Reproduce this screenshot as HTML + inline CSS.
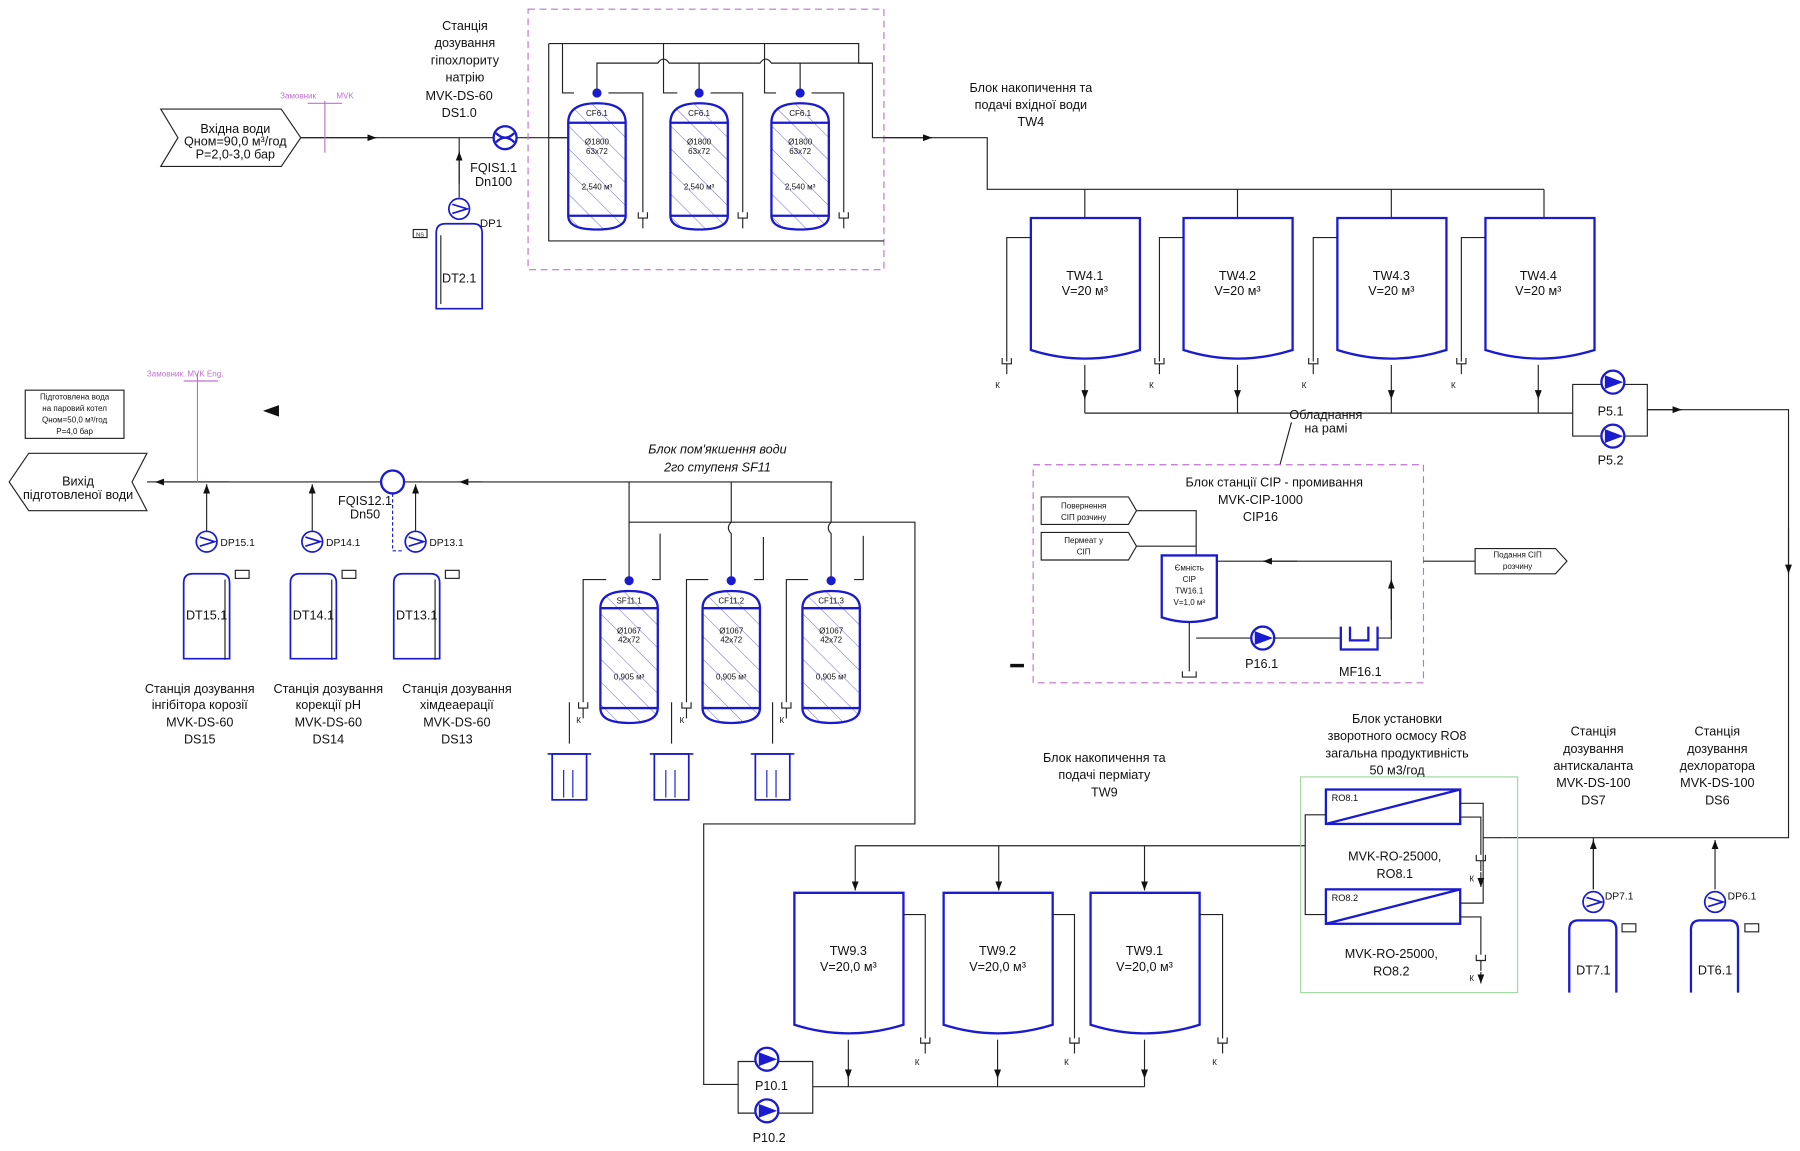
<!DOCTYPE html>
<html><head><meta charset="utf-8"><style>
html,body{margin:0;padding:0;background:#fff;}
svg{display:block;font-family:"Liberation Sans",sans-serif;}
text{fill:#111;}
.t{font-size:11px;text-anchor:middle;}
.s{font-size:7px;text-anchor:middle;}
.b{stroke:#1a1ad0;fill:none;stroke-width:2;}
.l{stroke:#222;fill:none;stroke-width:1;}
.p{stroke:#c070d0;fill:none;stroke-width:1;stroke-dasharray:6,4;}
</style></head><body>
<svg width="1800" height="1151" viewBox="0 0 1568 1003" preserveAspectRatio="none" xmlns="http://www.w3.org/2000/svg">
<defs>
<pattern id="h" width="14" height="14" patternUnits="userSpaceOnUse" patternTransform="rotate(-45)"><line x1="0" y1="0" x2="0" y2="14" stroke="#4444d0" stroke-width="0.7"/></pattern>
<marker id="a" markerWidth="8" markerHeight="6" refX="8" refY="3" orient="auto"><path d="M0,0 L8,3 L0,6z" fill="#111"/></marker>
<g id="cf">
<path d="M0,17 Q0,0 25,0 Q50,0 50,17 L50,98 Q50,110 25,110 Q0,110 0,98 Z" fill="url(#h)" stroke="#1a1ad0" stroke-width="2"/>
<line x1="0" y1="17" x2="50" y2="17" stroke="#1a1ad0" stroke-width="2"/>
<line x1="0" y1="98" x2="50" y2="98" stroke="#1a1ad0" stroke-width="2"/>
</g>
<g id="sf">
<path d="M0,15 Q0,0 25,0 Q50,0 50,15 L50,102 Q50,115 25,115 Q0,115 0,102 Z" fill="url(#h)" stroke="#1a1ad0" stroke-width="2"/>
<line x1="0" y1="15" x2="50" y2="15" stroke="#1a1ad0" stroke-width="2"/>
<line x1="0" y1="102" x2="50" y2="102" stroke="#1a1ad0" stroke-width="2"/>
</g>
<g id="tk"><path d="M0,0 L95,0 L95,115 Q47,130 0,115 Z" stroke="#1a1ad0" stroke-width="2" fill="#fff"/></g>
<g id="pu"><circle cx="0" cy="0" r="10" fill="#fff" stroke="#1a1ad0" stroke-width="2"/><path d="M-7,-6 L9,0 L-7,6" fill="#1a1ad0"/></g>
<g id="pd"><circle cx="0" cy="0" r="9" fill="#fff" stroke="#1a1ad0" stroke-width="1.5"/><path d="M-6,-4 L7,0 L-6,4" fill="none" stroke="#1a1ad0" stroke-width="1.5"/></g>
<g id="dt"><path d="M0,8 Q0,0 8,0 L32,0 Q40,0 40,8 L40,74 L0,74 Z" fill="#fff" stroke="#1a1ad0" stroke-width="1.5"/></g>
<g id="dr"><path d="M-4,0 L-4,5 L4,5 L4,0 M0,5 L0,14" class="l"/></g>
<g id="bk"><rect x="0" y="0" width="30" height="40" fill="none" stroke="#1a1ad0" stroke-width="1.5"/><line x1="-4" y1="0" x2="34" y2="0" stroke="#1a1ad0" stroke-width="1.5"/><line x1="10" y1="14" x2="10" y2="38" stroke="#1a1ad0"/><line x1="18" y1="14" x2="18" y2="38" stroke="#1a1ad0"/></g>
</defs>

<!-- inlet -->
<polygon points="140,95 245,95 262,120 245,145 140,145 155,120" class="l"/>
<text class="t" x="205" y="116">Вхідна води</text>
<text class="t" x="205" y="127">Qном=90,0 м³/год</text>
<text class="t" x="205" y="138">P=2,0-3,0 бар</text>
<line x1="262" y1="120" x2="495" y2="120" class="l"/>
<line x1="262" y1="120" x2="328" y2="120" class="l" marker-end="url(#a)"/>
<line x1="283" y1="88" x2="283" y2="133" stroke="#c070d0"/>
<line x1="268" y1="90" x2="298" y2="90" stroke="#c070d0"/>
<text x="244" y="86" font-size="7" style="fill:#c070d0">Замовник</text>
<text x="293" y="86" font-size="7" style="fill:#c070d0">MVK</text>
<text class="t" x="405" y="26">Станція</text>
<text class="t" x="405" y="41">дозування</text>
<text class="t" x="405" y="56">гіпохлориту</text>
<text class="t" x="405" y="71">натрію</text>
<text class="t" x="400" y="87">MVK-DS-60</text>
<text class="t" x="400" y="102">DS1.0</text>
<circle cx="440" cy="120" r="10" fill="#fff" stroke="#1a1ad0" stroke-width="2"/>
<path d="M432,116 Q440,124 448,116 M432,124 Q440,116 448,124" class="b" stroke-width="1"/>
<text class="t" x="430" y="150">FQIS1.1</text><text class="t" x="430" y="162">Dn100</text>
<line x1="400" y1="172" x2="400" y2="120" class="l"/>
<line x1="400" y1="160" x2="400" y2="132" class="l" marker-end="url(#a)"/>
<use href="#pd" x="400" y="182"/><text x="418" y="198" font-size="10">DP1</text>
<use href="#dt" x="380" y="195"/><text class="t" x="400" y="246">DT2.1</text>
<rect x="360" y="200" width="12" height="7" class="l"/><text x="366" y="206" font-size="5" text-anchor="middle">NS</text>
<line x1="384" y1="205" x2="384" y2="265" class="l"/>

<!-- CF block -->
<rect x="460" y="8" width="310" height="227" class="p"/>
<path d="M478,38 L748,38 L748,55 L760,55 L760,70 M478,38 L478,210 L770,210 M495,120 L478,120 M760,70 L760,120 L770,120" class="l"/>
<path d="M490,38 L490,81 L500,81 M578,38 L578,81 L590,81 M666,38 L666,81 L676,81" class="l"/>
<path d="M520,78 L520,55 L573,55 Q578,48 583,55 L662,55 Q667,48 672,55 L760,55" class="l"/>
<path d="M609,78 L609,55 M697,78 L697,55" class="l"/>
<path d="M530,81 L560,81 L560,185 M619,81 L647,81 L647,185 M707,81 L735,81 L735,185" class="l"/>
<use href="#cf" x="495" y="90"/><use href="#cf" x="584" y="90"/><use href="#cf" x="672" y="90"/>
<g class="s">
<text x="520" y="101">CF6.1</text><text x="520" y="126">Ø1800</text><text x="520" y="134">63x72</text><text x="520" y="165">2,540 м³</text>
<text x="609" y="101">CF6.1</text><text x="609" y="126">Ø1800</text><text x="609" y="134">63x72</text><text x="609" y="165">2,540 м³</text>
<text x="697" y="101">CF6.1</text><text x="697" y="126">Ø1800</text><text x="697" y="134">63x72</text><text x="697" y="165">2,540 м³</text>
</g>
<g fill="#1a1ad0"><circle cx="520" cy="81" r="4"/><circle cx="609" cy="81" r="4"/><circle cx="697" cy="81" r="4"/></g>
<use href="#dr" x="560" y="185"/><use href="#dr" x="647" y="185"/><use href="#dr" x="735" y="185"/>

<!-- TW4 -->
<path d="M770,120 L860,120 L860,165 L1345,165" class="l"/>
<line x1="770" y1="120" x2="812" y2="120" class="l" marker-end="url(#a)"/>
<path d="M945,165 L945,190 M1078,165 L1078,190 M1212,165 L1212,190 M1345,165 L1345,190" class="l"/>
<use href="#tk" x="898" y="190"/><use href="#tk" x="1031" y="190"/><use href="#tk" x="1165" y="190"/><use href="#tk" x="1294" y="190"/>
<text class="t" x="945" y="244">TW4.1</text><text class="t" x="945" y="257">V=20 м³</text>
<text class="t" x="1078" y="244">TW4.2</text><text class="t" x="1078" y="257">V=20 м³</text>
<text class="t" x="1212" y="244">TW4.3</text><text class="t" x="1212" y="257">V=20 м³</text>
<text class="t" x="1340" y="244">TW4.4</text><text class="t" x="1340" y="257">V=20 м³</text>
<path d="M898,207 L877,207 L877,315 M1031,207 L1010,207 L1010,315 M1165,207 L1144,207 L1144,315 M1294,207 L1273,207 L1273,315" class="l"/>
<g font-size="7"><text x="867" y="338">К</text><text x="1001" y="338">К</text><text x="1134" y="338">К</text><text x="1264" y="338">К</text></g>
<use href="#dr" x="877" y="312"/><use href="#dr" x="1010" y="312"/><use href="#dr" x="1144" y="312"/><use href="#dr" x="1273" y="312"/>
<line x1="945" y1="318" x2="945" y2="348" class="l" marker-end="url(#a)"/><line x1="945" y1="345" x2="945" y2="360" class="l"/>
<line x1="1078" y1="318" x2="1078" y2="348" class="l" marker-end="url(#a)"/><line x1="1078" y1="345" x2="1078" y2="360" class="l"/>
<line x1="1212" y1="318" x2="1212" y2="348" class="l" marker-end="url(#a)"/><line x1="1212" y1="345" x2="1212" y2="360" class="l"/>
<line x1="1340" y1="318" x2="1340" y2="348" class="l" marker-end="url(#a)"/><line x1="1340" y1="345" x2="1340" y2="360" class="l"/>
<line x1="945" y1="360" x2="1370" y2="360" class="l"/>
<text class="t" x="898" y="80">Блок накопичення та</text>
<text class="t" x="898" y="95">подачі вхідної води</text>
<text class="t" x="898" y="110">TW4</text>
<text class="t" x="1155" y="365">Обладнання</text><text class="t" x="1155" y="377">на рамі</text>
<path d="M1125,368 L1115,405" class="l"/>
<path d="M1370,335 L1370,380 L1435,380 L1435,335 Z" class="l"/>
<use href="#pu" x="1405" y="333"/><use href="#pu" x="1405" y="380"/>
<text class="t" x="1403" y="362">P5.1</text><text class="t" x="1403" y="405">P5.2</text>
<path d="M1435,357 L1558,357 L1558,730 L1310,730" class="l"/>
<line x1="1435" y1="357" x2="1465" y2="357" class="l" marker-end="url(#a)"/>
<line x1="1558" y1="460" x2="1558" y2="500" class="l" marker-end="url(#a)"/>
<polygon points="229,358 243,353 243,363" fill="#111"/>

<!-- CIP -->
<rect x="900" y="405" width="340" height="190" class="p"/>
<text class="t" x="1110" y="424" font-size="12">Блок станції CIP - промивання</text>
<text class="t" x="1098" y="439" font-size="12">MVK-CIP-1000</text>
<text class="t" x="1098" y="454" font-size="12">CIP16</text>
<polygon points="907,433 983,433 990,445 983,457 907,457" class="l"/>
<text class="s" x="944" y="443">Повернення</text><text class="s" x="944" y="453">СІП розчину</text>
<polygon points="907,464 983,464 990,476 983,488 907,488" class="l"/>
<text class="s" x="944" y="473">Пермеат у</text><text class="s" x="944" y="483">СІП</text>
<path d="M990,445 L1042,445 L1042,484 M990,476 L1042,476" class="l"/>
<path d="M1012,484 L1060,484 L1060,538 Q1036,546 1012,538 Z" class="b" stroke-width="1.5"/>
<text class="s" x="1036" y="497">Ємність</text><text class="s" x="1036" y="507">CIP</text><text class="s" x="1036" y="517">TW16.1</text><text class="s" x="1036" y="527">V=1,0 м³</text>
<path d="M1036,542 L1036,585 M1030,585 L1030,590 L1042,590 L1042,585 M1042,556 L1090,556" class="l"/>
<use href="#pu" x="1100" y="556"/><text class="t" x="1099" y="582">P16.1</text>
<path d="M1110,556 L1168,556" class="l"/>
<path d="M1168,546 L1168,566 L1200,566 L1200,546 M1176,546 L1176,558 L1192,558 L1192,546" class="b" stroke-width="1.5"/>
<text class="t" x="1185" y="589">MF16.1</text>
<path d="M1200,556 L1212,556 L1212,489 L1060,489" class="l"/>
<line x1="1212" y1="540" x2="1212" y2="505" class="l" marker-end="url(#a)"/>
<line x1="1130" y1="489" x2="1100" y2="489" class="l" marker-end="url(#a)"/>
<line x1="1240" y1="489" x2="1285" y2="489" class="l"/>
<polygon points="1285,478 1355,478 1365,489 1355,500 1285,500" class="l"/>
<text class="s" x="1322" y="486">Подання СІП</text><text class="s" x="1322" y="496">розчину</text>
<line x1="880" y1="580" x2="892" y2="580" stroke="#111" stroke-width="3"/>

<!-- Output side -->
<rect x="22" y="340" width="86" height="42" class="l"/>
<text class="s" x="65" y="348">Підготовлена вода</text>
<text class="s" x="65" y="358">на паровий котел</text>
<text class="s" x="65" y="368">Qном=50,0 м³/год</text>
<text class="s" x="65" y="378">P=4,0 бар</text>
<polygon points="8,420 25,395 128,395 115,420 128,445 25,445" class="l"/>
<text class="t" x="68" y="423">Вихід</text><text class="t" x="68" y="435">підготовленої води</text>
<line x1="725" y1="420" x2="128" y2="420" class="l"/>
<line x1="200" y1="420" x2="135" y2="420" class="l" marker-end="url(#a)"/>
<line x1="420" y1="420" x2="400" y2="420" class="l" marker-end="url(#a)"/>
<line x1="172" y1="325" x2="172" y2="420" stroke="#c070d0"/>
<line x1="160" y1="332" x2="190" y2="332" stroke="#c070d0"/>
<text x="128" y="328" font-size="7" style="fill:#c070d0">Замовник. MVK Eng.</text>
<circle cx="342" cy="420" r="10" fill="#fff" stroke="#1a1ad0" stroke-width="2"/>
<text class="t" x="318" y="440">FQIS12.1</text><text class="t" x="318" y="452">Dn50</text>
<path d="M342,430 L342,480 L352,480" stroke="#1a1ad0" stroke-dasharray="3,2" fill="none"/>
<line x1="180" y1="465" x2="180" y2="422" class="l" marker-end="url(#a)"/>
<line x1="272" y1="465" x2="272" y2="422" class="l" marker-end="url(#a)"/>
<line x1="362" y1="465" x2="362" y2="422" class="l" marker-end="url(#a)"/>
<use href="#pd" x="180" y="472"/><use href="#pd" x="272" y="472"/><use href="#pd" x="362" y="472"/>
<text x="192" y="476" font-size="9">DP15.1</text><text x="284" y="476" font-size="9">DP14.1</text><text x="374" y="476" font-size="9">DP13.1</text>
<use href="#dt" x="160" y="500"/><use href="#dt" x="253" y="500"/><use href="#dt" x="343" y="500"/>
<text class="t" x="180" y="540" font-size="10">DT15.1</text><text class="t" x="273" y="540" font-size="10">DT14.1</text><text class="t" x="363" y="540" font-size="10">DT13.1</text>
<path d="M196,505 L196,575 M289,505 L289,575 M379,505 L379,575" class="l"/>
<rect x="205" y="497" width="12" height="7" class="l"/><rect x="298" y="497" width="12" height="7" class="l"/><rect x="388" y="497" width="12" height="7" class="l"/>
<text class="t" x="174" y="604" font-size="12">Станція дозування</text><text class="t" x="174" y="618" font-size="12">інгібітора корозії</text><text class="t" x="174" y="633" font-size="12">MVK-DS-60</text><text class="t" x="174" y="648" font-size="12">DS15</text>
<text class="t" x="286" y="604" font-size="12">Станція дозування</text><text class="t" x="286" y="618" font-size="12">корекції pH</text><text class="t" x="286" y="633" font-size="12">MVK-DS-60</text><text class="t" x="286" y="648" font-size="12">DS14</text>
<text class="t" x="398" y="604" font-size="12">Станція дозування</text><text class="t" x="398" y="618" font-size="12">хімдеаерації</text><text class="t" x="398" y="633" font-size="12">MVK-DS-60</text><text class="t" x="398" y="648" font-size="12">DS13</text>

<!-- SF11 -->
<text class="t" x="625" y="395" font-size="12" font-style="italic">Блок пом'якшення води</text>
<text class="t" x="625" y="411" font-size="12" font-style="italic">2го ступеня SF11</text>
<path d="M548,420 L548,505 M637,420 L637,455 Q632,460 637,465 L637,505 M724,420 L724,455 Q719,460 724,465 L724,505" class="l"/>
<path d="M548,455 L797,455 L797,718 L613,718 L613,945 L643,945" class="l"/>
<path d="M528,505 L508,505 L508,612 M568,505 L575,505 L575,465 M617,505 L598,505 L598,612 M657,505 L665,505 L665,468 M704,505 L685,505 L685,612 M744,505 L752,505 L752,467" class="l"/>
<use href="#sf" x="523" y="515"/><use href="#sf" x="612" y="515"/><use href="#sf" x="699" y="515"/>
<g fill="#1a1ad0"><circle cx="548" cy="506" r="4"/><circle cx="637" cy="506" r="4"/><circle cx="724" cy="506" r="4"/></g>
<g class="s">
<text x="548" y="526">SF11.1</text><text x="548" y="552">Ø1067</text><text x="548" y="560">42x72</text><text x="548" y="592">0,905 м³</text>
<text x="637" y="526">CF11.2</text><text x="637" y="552">Ø1067</text><text x="637" y="560">42x72</text><text x="637" y="592">0,905 м³</text>
<text x="724" y="526">CF11.3</text><text x="724" y="552">Ø1067</text><text x="724" y="560">42x72</text><text x="724" y="592">0,905 м³</text>
</g>
<use href="#dr" x="508" y="612"/><use href="#dr" x="598" y="612"/><use href="#dr" x="685" y="612"/>
<g font-size="7"><text x="502" y="630">К</text><text x="592" y="630">К</text><text x="679" y="630">К</text></g>
<path d="M496,612 L496,648 M585,612 L585,648 M673,612 L673,648" class="l"/>
<use href="#bk" x="481" y="657"/><use href="#bk" x="570" y="657"/><use href="#bk" x="658" y="657"/>

<!-- TW9 -->
<text class="t" x="962" y="664" font-size="12">Блок накопичення та</text>
<text class="t" x="962" y="679" font-size="12">подачі пермiату</text>
<text class="t" x="962" y="694" font-size="12">TW9</text>
<path d="M1137,737 L745,737" class="l"/>
<line x1="745" y1="737" x2="745" y2="776" class="l" marker-end="url(#a)"/>
<line x1="870" y1="737" x2="870" y2="776" class="l" marker-end="url(#a)"/>
<line x1="997" y1="737" x2="997" y2="776" class="l" marker-end="url(#a)"/>
<use href="#tk" x="692" y="778"/><use href="#tk" x="822" y="778"/><use href="#tk" x="950" y="778"/>
<text class="t" x="739" y="832">TW9.3</text><text class="t" x="739" y="846">V=20,0 м³</text>
<text class="t" x="869" y="832">TW9.2</text><text class="t" x="869" y="846">V=20,0 м³</text>
<text class="t" x="997" y="832">TW9.1</text><text class="t" x="997" y="846">V=20,0 м³</text>
<path d="M787,797 L806,797 L806,905 M917,797 L936,797 L936,905 M1045,797 L1065,797 L1065,905" class="l"/>
<use href="#dr" x="806" y="904"/><use href="#dr" x="936" y="904"/><use href="#dr" x="1065" y="904"/>
<g font-size="7"><text x="797" y="928">К</text><text x="927" y="928">К</text><text x="1056" y="928">К</text></g>
<line x1="739" y1="906" x2="739" y2="940" class="l" marker-end="url(#a)"/><line x1="739" y1="938" x2="739" y2="947" class="l"/>
<line x1="869" y1="906" x2="869" y2="940" class="l" marker-end="url(#a)"/><line x1="869" y1="938" x2="869" y2="947" class="l"/>
<line x1="997" y1="906" x2="997" y2="940" class="l" marker-end="url(#a)"/><line x1="997" y1="938" x2="997" y2="947" class="l"/>
<line x1="708" y1="947" x2="997" y2="947" class="l"/>
<path d="M643,925 L643,970 L708,970 L708,925 Z" class="l"/>
<use href="#pu" x="668" y="923"/><use href="#pu" x="668" y="968"/>
<text class="t" x="672" y="950">P10.1</text><text class="t" x="670" y="995">P10.2</text>

<!-- RO -->
<rect x="1133" y="677" width="189" height="188" fill="none" stroke="#9ed89e"/>
<text class="t" x="1217" y="630" font-size="12">Блок установки</text>
<text class="t" x="1217" y="645" font-size="12">зворотного осмосу RO8</text>
<text class="t" x="1217" y="660" font-size="12">загальна продуктивність</text>
<text class="t" x="1217" y="675" font-size="12">50 м3/год</text>
<rect x="1155" y="688" width="117" height="30" class="b" stroke-width="1.5"/><line x1="1155" y1="718" x2="1272" y2="688" class="b" stroke-width="1"/>
<text x="1160" y="698" font-size="8">RO8.1</text>
<rect x="1155" y="775" width="117" height="30" class="b" stroke-width="1.5"/><line x1="1155" y1="805" x2="1272" y2="775" class="b" stroke-width="1"/>
<text x="1160" y="785" font-size="8">RO8.2</text>
<text class="t" x="1215" y="750" font-size="11">MVK-RO-25000,</text><text class="t" x="1215" y="765" font-size="11">RO8.1</text>
<text class="t" x="1212" y="835" font-size="11">MVK-RO-25000,</text><text class="t" x="1212" y="850" font-size="11">RO8.2</text>
<path d="M1155,710 L1137,710 L1137,797 L1155,797" class="l"/>
<path d="M1310,730 L1292,730 L1292,700 L1272,700 M1292,730 L1292,787 L1272,787" class="l"/>
<path d="M1272,712 L1290,712 L1290,745 M1272,799 L1290,799 L1290,832" class="l"/>
<use href="#dr" x="1290" y="745"/><use href="#dr" x="1290" y="832"/>
<line x1="1290" y1="760" x2="1290" y2="773" class="l" marker-end="url(#a)"/>
<line x1="1290" y1="847" x2="1290" y2="857" class="l" marker-end="url(#a)"/>
<g font-size="7"><text x="1280" y="768">К</text><text x="1280" y="855">К</text></g>
<text class="t" x="1388" y="641" font-size="11">Станція</text><text class="t" x="1388" y="656" font-size="11">дозування</text><text class="t" x="1388" y="671" font-size="11">антискаланта</text><text class="t" x="1388" y="686" font-size="11">MVK-DS-100</text><text class="t" x="1388" y="701" font-size="11">DS7</text>
<text class="t" x="1496" y="641" font-size="11">Станція</text><text class="t" x="1496" y="656" font-size="11">дозування</text><text class="t" x="1496" y="671" font-size="11">дехлоратора</text><text class="t" x="1496" y="686" font-size="11">MVK-DS-100</text><text class="t" x="1496" y="701" font-size="11">DS6</text>
<line x1="1388" y1="775" x2="1388" y2="730" class="l"/>
<line x1="1388" y1="775" x2="1388" y2="732" class="l" marker-end="url(#a)"/>
<line x1="1494" y1="775" x2="1494" y2="732" class="l" marker-end="url(#a)"/>
<use href="#pd" x="1388" y="786"/><use href="#pd" x="1494" y="786"/>
<text x="1398" y="784" font-size="9">DP7.1</text><text x="1505" y="784" font-size="9">DP6.1</text>
<path d="M1367,810 Q1367,802 1375,802 L1400,802 Q1408,802 1408,810 L1408,865 M1367,810 L1367,865" class="b" stroke-width="1.5"/>
<path d="M1473,810 Q1473,802 1481,802 L1506,802 Q1514,802 1514,810 L1514,865 M1473,810 L1473,865" class="b" stroke-width="1.5"/>
<text class="t" x="1388" y="849" font-size="9">DT7.1</text><text class="t" x="1494" y="849" font-size="9">DT6.1</text>
<rect x="1413" y="805" width="12" height="7" class="l"/><rect x="1520" y="805" width="12" height="7" class="l"/>
</svg>
</body></html>
